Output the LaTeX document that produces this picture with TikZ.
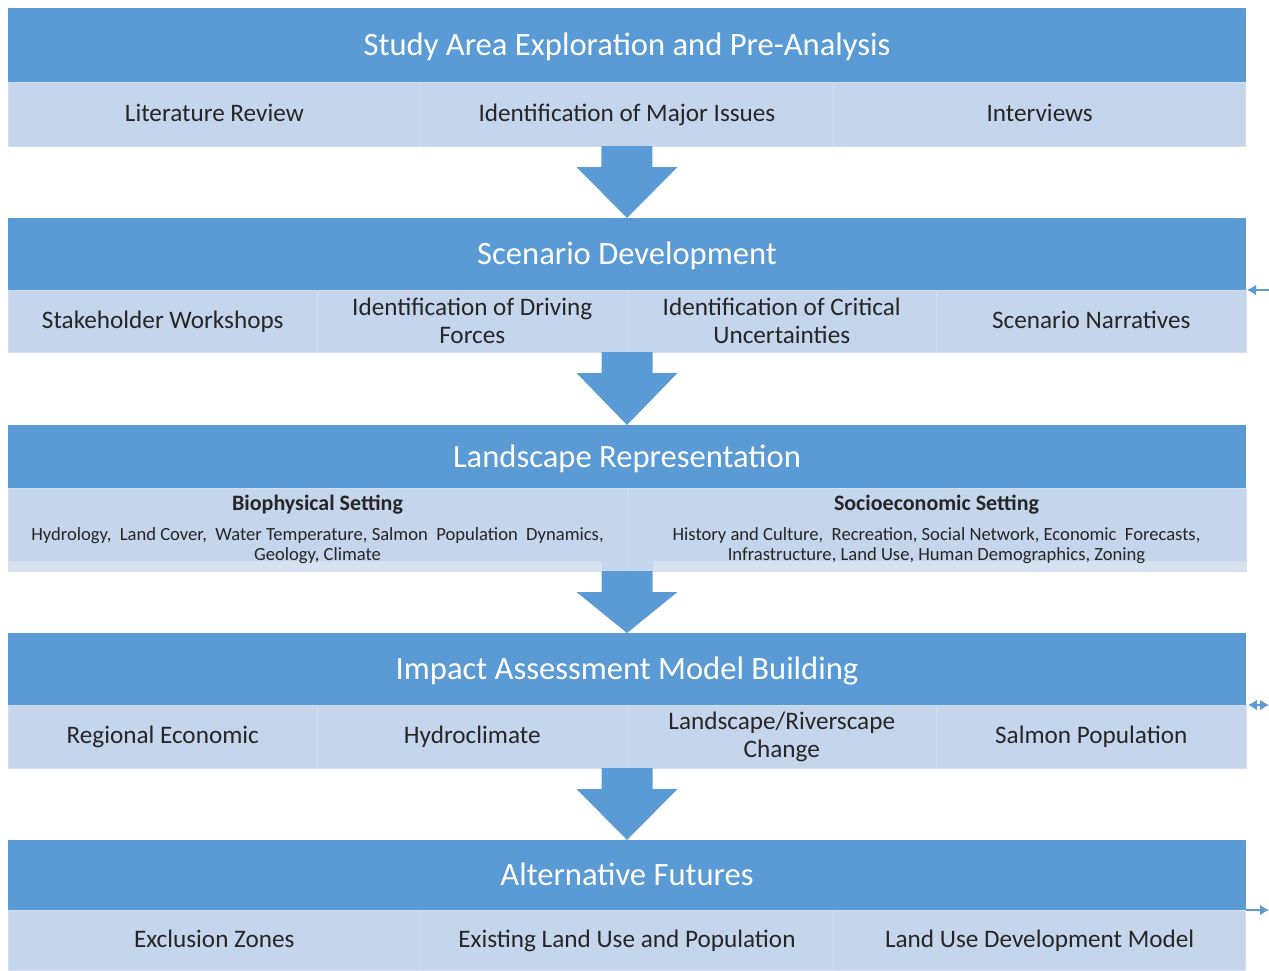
\documentclass[tikz,border=0pt]{standalone}
\usepackage{fontspec}
\setmainfont{Carlito}
\usetikzlibrary{positioning,calc,arrows.meta}
\definecolor{hdrblue}{HTML}{5B9BD5}
\definecolor{cellblue}{HTML}{C5D5EB}
\definecolor{cellline}{HTML}{D3DFF0}
\definecolor{striplight}{HTML}{D7E2F1}
\definecolor{txtgray}{HTML}{262626}
% block arrow from the bottom of one band to the top of the next
\newcommand\bigarrow[2]{%
  \fill[hdrblue] ($(#1)+(-12.75pt,0)$) -- ($(#1)+(12.75pt,0)$)
    -- ($(#1)+(12.75pt,-10.5pt)$) -- ($(#1)+(25.25pt,-10.5pt)$) -- (#2)
    -- ($(#1)+(-25.25pt,-10.5pt)$) -- ($(#1)+(-12.75pt,-10.5pt)$) -- cycle;}

\begin{document}
\begin{tikzpicture}[node distance=0pt,
hdr/.style={fill=hdrblue, text=white, font=\fontsize{16.3}{19}\selectfont, minimum width=619pt, inner sep=0pt, outer sep=0pt, anchor=north west, text height=10.8pt, text depth=0pt},
cell/.style={fill=cellblue, draw=cellline, line width=0.5pt, text=txtgray, align=center, inner sep=0pt, outer sep=0pt, font=\fontsize{12.6}{14}\selectfont},
oneline/.style={text height=7pt, text depth=0pt},
cellthree/.style={cell, oneline, minimum width=206.33pt},
cellfour/.style={cell, minimum width=154.75pt},
celltwo/.style={cell, minimum width=309.5pt, minimum height=41.5pt, font=\fontsize{9.3}{10}\selectfont},
stub/.style={draw=hdrblue, line width=1.2pt, >={Latex[length=4.5pt,width=5.5pt]}}
]
\useasboundingbox (0,0) rectangle (634.5pt,-485pt);

% band 1
\node (hdr1) [hdr, minimum height=37pt] at (4pt,-4pt) {Study Area Exploration and Pre-Analysis};
\node (lit) [cellthree, minimum height=32pt, below right=0pt and 0pt of hdr1.south west] {Literature Review};
\node (iss) [cellthree, minimum height=32pt, right=of lit] {Identification of Major Issues};
\node (intv) [cellthree, minimum height=32pt, right=of iss] {Interviews};

% band 2
\node (hdr2) [hdr, minimum height=36pt] at (4pt,-109pt) {Scenario Development};
\node (wsh) [cellfour, oneline, minimum height=31pt, below right=0pt and 0pt of hdr2.south west] {Stakeholder Workshops};
\node (drv) [cellfour, minimum height=31pt, right=of wsh] {Identification of Driving\\Forces};
\node (unc) [cellfour, minimum height=31pt, right=of drv] {Identification of Critical\\Uncertainties};
\node (narr) [cellfour, oneline, minimum height=31pt, right=of unc] {Scenario Narratives};

% band 3
\node (hdr3) [hdr, minimum height=31.5pt] at (4pt,-212.5pt) {Landscape Representation};
\node (bio) [celltwo, below right=0pt and 0pt of hdr3.south west,
  path picture={\fill[striplight] (path picture bounding box.south west) rectangle ($(path picture bounding box.south east)+(-12.75pt,5pt)$);}]
  {{\bfseries\fontsize{11}{12}\selectfont Biophysical Setting}\\[5pt]
   Hydrology,~ Land Cover,~ Water Temperature, Salmon~ Population~ Dynamics,\\ Geology, Climate};
\node (soc) [celltwo, right=of bio,
  path picture={\fill[striplight] ($(path picture bounding box.south west)+(12.75pt,0)$) rectangle ($(path picture bounding box.south east)+(0,5pt)$);}]
  {{\bfseries\fontsize{11}{12}\selectfont Socioeconomic Setting}\\[5pt]
   History and Culture,~ Recreation, Social Network, Economic~ Forecasts,\\ Infrastructure, Land Use, Human Demographics, Zoning};

% band 4
\node (hdr4) [hdr, minimum height=36pt] at (4pt,-316.5pt) {Impact Assessment Model Building};
\node (econ) [cellfour, oneline, minimum height=31.5pt, below right=0pt and 0pt of hdr4.south west] {Regional Economic};
\node (hyd) [cellfour, oneline, minimum height=31.5pt, right=of econ] {Hydroclimate};
\node (land) [cellfour, minimum height=31.5pt, right=of hyd] {Landscape/Riverscape\\Change};
\node (salm) [cellfour, oneline, minimum height=31.5pt, right=of land] {Salmon Population};

% band 5
\node (hdr5) [hdr, minimum height=35pt] at (4pt,-420pt) {Alternative Futures};
\node (excl) [cellthree, minimum height=30pt, below right=0pt and 0pt of hdr5.south west] {Exclusion Zones};
\node (exist) [cellthree, minimum height=30pt, right=of excl] {Existing Land Use and Population};
\node (ludm) [cellthree, minimum height=30pt, right=of exist] {Land Use Development Model};

% arrows between bands
\bigarrow{iss.south}{hdr2.north}
\bigarrow{drv.south east}{hdr3.north}
\bigarrow{bio.south east}{hdr4.north}
\bigarrow{hyd.south east}{hdr5.north}

% loose ends on the right
\coordinate[right=11.5pt of hdr2.south east] (fb2);
\coordinate[right=11.5pt of hdr4.south east] (fb4);
\coordinate[right=11.5pt of hdr5.south east] (fb5);
\draw[stub,->] (fb2) -- ([xshift=0.5pt]hdr2.south east);
\draw[stub,<->] ([xshift=1pt]hdr4.south east) -- (fb4);
\draw[stub,->] (hdr5.south east) -- (fb5);

\end{tikzpicture}
\end{document}
